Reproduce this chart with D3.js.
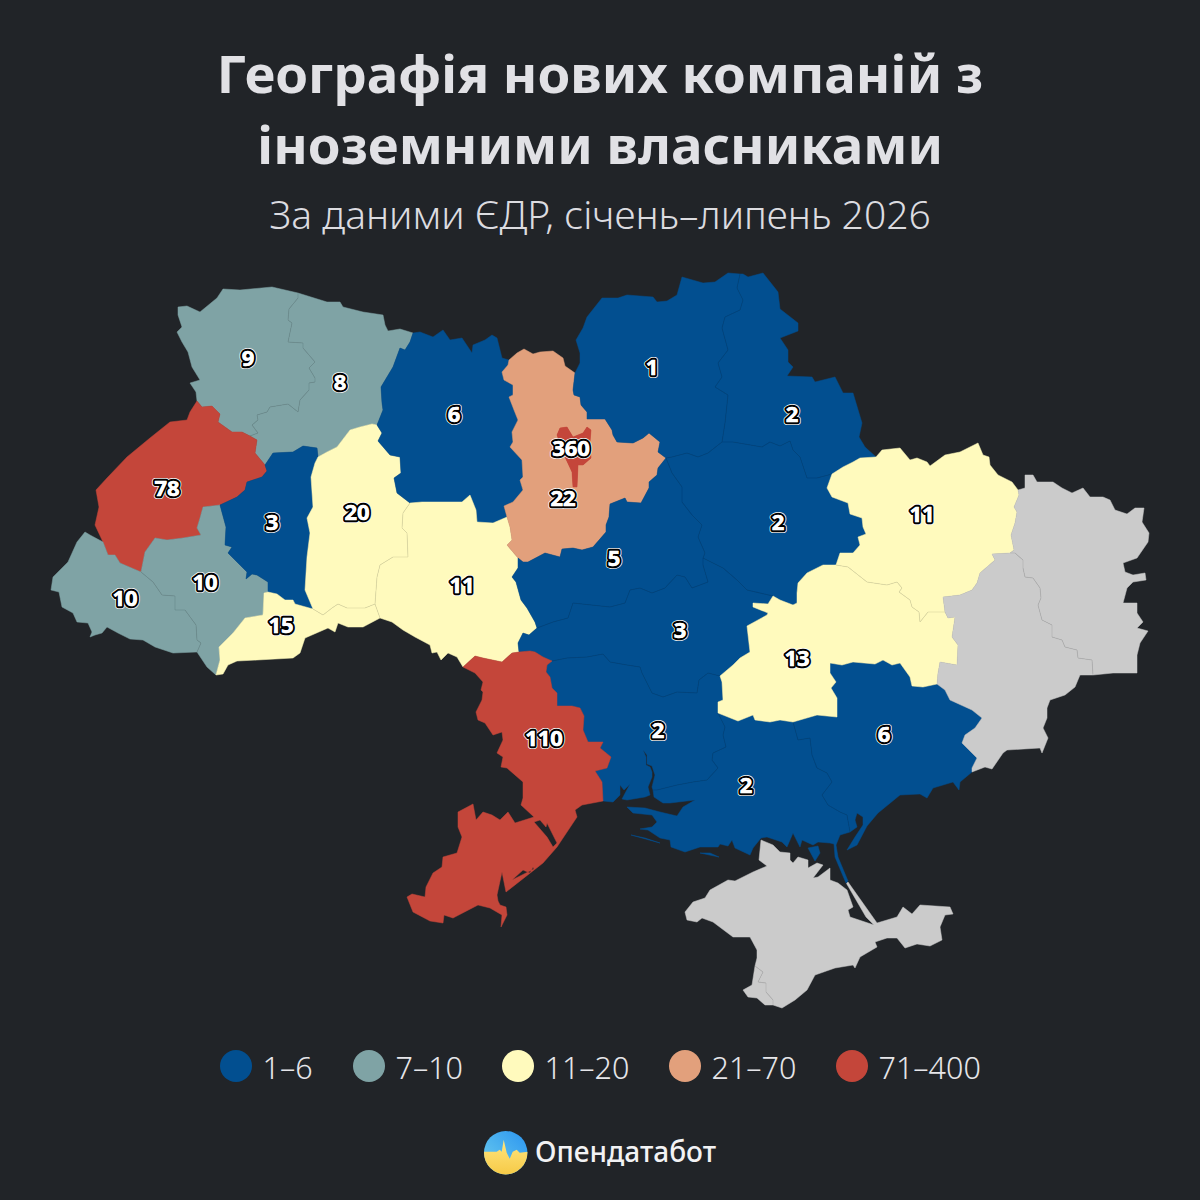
<!DOCTYPE html>
<html lang="uk">
<head>
<meta charset="utf-8">
<title>Географія нових компаній з іноземними власниками</title>
<script src="https://cdn.jsdelivr.net/npm/d3@7"></script>
<style>
html, body { margin: 0; padding: 0; background: #212428; }
svg { display: block; }
text { font-family: "Noto Sans", "Open Sans", sans-serif; }
</style>
</head>
<body>
<svg id="chart" width="1200" height="1200" viewBox="0 0 1200 1200"></svg>
<script>
// --- data
const titleLines = ["Географія нових компаній з", "іноземними власниками"];
const subtitle = "За даними ЄДР, січень–липень 2026";
const brand = "Опендатабот";

const regionNames = ["Волинська", "Рівненська", "Львівська", "Закарпатська", "Івано-Франківська", "Тернопільська",
    "Хмельницька", "Чернівецька", "Житомирська", "Вінницька", "Київська", "Чернігівська", "Сумська", "Полтавська",
    "Черкаська", "Кіровоградська", "Миколаївська", "Одеська", "Херсонська", "Запорізька", "Дніпропетровська",
    "Харківська", "Луганська", "Донецька", "Крим", "Севастополь", "Київ"];
// null = no data (grey)
const regionValues = [9, 8, 78, 10, 10, 3,
    20, 15, 6, 11, 22, 1, 2, 2,
    5, 3, 2, 110, 2, 6, 13,
    11, null, null, null, null, 360];

const legendLabels = ["1–6", "7–10", "11–20", "21–70", "71–400"];
const legendBreaks = [7, 11, 21, 71];

// --- map geometry, shared borders (map units)
const arcs = {
    vo_ri: [[298,293],[298,298],[289,309],[288,320],[292,323],[288,342],[303,343],[303,348],[315,362],[309,368],[315,378],[315,382],[309,383],[309,390],[300,400],[298,412],[288,404],[270,407],[267,412],[257,415],[258,420],[252,425],[258,433],[250,436]],
    vo_lv: [[250,436],[242,432],[232,432],[218,422],[220,414],[212,406],[202,407],[197,401]],
    vo_out: [[197,401],[196,392],[190,383],[200,380],[192,367],[188,352],[182,342],[177,332],[182,327],[178,315],[178,307],[187,306],[200,312],[217,298],[223,289],[240,290],[272,287],[298,293]],
    ri_out: [[298,293],[327,302],[340,302],[343,307],[363,312],[383,315],[385,325],[388,331],[400,329],[413,333]],
    ri_zh: [[413,333],[410,342],[405,350],[400,348],[393,367],[381,387],[382,403],[383,410],[377,425]],
    ri_km: [[377,425],[372,424],[360,427],[350,430],[337,447],[327,452],[318,457]],
    ri_te: [[318,457],[317,448],[303,446],[293,452],[273,453],[265,465]],
    ri_lv: [[265,465],[255,453],[257,440],[250,436]],
    lv_te: [[265,465],[267,471],[262,477],[247,482],[245,490],[237,497],[220,505]],
    lv_if: [[220,505],[212,506],[203,507],[200,518],[197,528],[201,535],[183,538],[167,540],[155,538],[145,552],[141,572]],
    lv_za: [[141,572],[120,563],[115,555],[108,555],[103,542]],
    lv_out: [[103,542],[95,525],[99,507],[96,490],[107,478],[127,457],[150,438],[170,422],[187,420],[190,412],[197,401]],
    za_out: [[103,542],[90,535],[85,532],[77,542],[68,562],[53,577],[51,590],[59,592],[62,607],[73,613],[77,622],[88,623],[92,632],[90,637],[95,635],[102,633],[107,627],[118,633],[130,639],[143,640],[155,647],[173,653],[197,652]],
    za_if: [[141,572],[153,582],[162,595],[175,596],[175,610],[185,610],[196,625],[197,640],[201,643],[197,652]],
    if_out: [[197,652],[207,667],[216,675]],
    if_ch: [[216,675],[220,660],[219,647],[233,633],[245,618],[263,615],[264,593],[268,592]],
    if_te: [[268,592],[268,582],[257,575],[252,574],[246,579],[247,572],[240,565],[228,553],[232,547],[225,545],[226,527],[220,505]],
    te_ch: [[268,592],[277,594],[285,600],[293,600],[295,604],[313,609]],
    te_km: [[318,457],[315,463],[311,477],[313,507],[307,518],[310,533],[307,557],[305,590],[313,609]],
    km_ch: [[313,609],[323,615],[332,608],[338,604],[347,608],[365,608],[375,604]],
    km_zh: [[377,425],[382,433],[378,441],[390,455],[400,457],[401,473],[394,478],[397,493],[410,503]],
    km_vi: [[410,503],[403,513],[402,528],[407,533],[408,557],[393,557],[380,565],[377,577],[375,604]],
    ch_vi: [[375,604],[380,618]],
    ch_out: [[380,618],[363,627],[348,627],[338,623],[335,632],[328,628],[305,638],[300,653],[293,658],[257,660],[237,661],[228,665],[223,674],[216,675]],
    zh_out: [[413,333],[420,332],[433,337],[443,330],[450,340],[462,338],[472,353],[473,345],[485,340],[492,335],[497,338],[502,358],[509,360]],
    zh_ky: [[509,360],[508,365],[502,372],[504,380],[513,385],[513,395],[509,397],[514,410],[518,420],[512,432],[513,442],[510,447],[522,460],[523,477],[520,480],[523,490],[513,502],[504,506],[507,517]],
    zh_vi: [[507,517],[493,523],[477,522],[476,510],[470,495],[462,502],[443,502],[422,502],[410,503]],
    ky_vi: [[507,517],[510,527],[512,540],[507,545],[518,558]],
    vi_ch: [[518,558],[518,568],[512,577],[516,582],[521,600],[527,608],[535,622],[537,628]],
    vi_ki: [[537,628],[529,635],[523,633],[518,643],[519,652]],
    vi_od: [[519,652],[512,653],[502,662],[483,658],[475,656],[463,667]],
    vi_out: [[463,667],[457,657],[448,653],[441,660],[437,652],[432,653],[430,645],[415,637],[403,630],[392,622],[380,618]],
    ky_out: [[509,360],[517,353],[524,349],[533,354],[540,352],[553,351],[563,358],[565,366],[575,373]],
    ky_cn: [[575,373],[573,390],[574,395],[580,397],[581,405],[587,412],[587,419],[605,419],[612,430],[613,435],[617,442],[633,443],[643,438],[649,433],[660,442],[658,452],[666,458]],
    ky_ck: [[666,458],[658,468],[657,475],[649,482],[649,488],[641,503],[627,502],[625,498],[610,504],[609,517],[606,525],[606,532],[593,547],[582,550],[573,548],[562,549],[560,557],[545,553],[528,562],[523,562],[518,558]],
    cn_out: [[575,373],[580,363],[580,353],[576,340],[583,328],[587,317],[602,298],[618,298],[627,295],[653,297],[657,302],[667,301],[677,295],[682,277],[703,283],[715,282],[728,273],[740,274]],
    cn_su: [[740,274],[737,288],[743,300],[740,310],[725,317],[722,328],[728,350],[718,363],[722,377],[715,387],[728,395],[725,423],[722,442]],
    cn_po: [[722,442],[708,453],[698,457],[687,453],[672,457],[666,458]],
    su_out: [[740,274],[743,274],[748,277],[763,273],[778,292],[780,309],[798,323],[798,331],[780,338],[788,350],[788,362],[793,367],[787,376],[812,377],[815,382],[835,377],[843,393],[853,393],[862,423],[859,437],[865,447],[876,457]],
    su_kh: [[876,457],[860,458],[853,462],[843,467],[832,474]],
    po_su: [[722,442],[733,442],[762,447],[770,442],[780,446],[790,441],[793,450],[800,457],[807,478],[817,478],[832,474]],
    po_kh: [[832,474],[827,488],[832,497],[848,503],[850,514],[862,518],[863,527],[866,534],[858,537],[860,545],[853,553],[840,553],[836,565]],
    po_dn: [[836,565],[823,565],[807,573],[798,583],[797,593],[797,603],[793,605],[780,600],[773,596]],
    po_ki: [[703,558],[723,568],[737,580],[747,590],[773,596]],
    po_ck: [[666,458],[672,473],[682,487],[682,502],[692,515],[702,525],[698,537],[705,553],[703,558]],
    ck_ki: [[703,558],[703,565],[708,582],[692,588],[685,577],[677,575],[665,588],[652,593],[640,588],[630,590],[625,603],[610,607],[573,603],[568,618],[553,622],[537,628]],
    ki_dn: [[773,596],[768,604],[753,603],[753,607],[768,613],[767,615],[747,626],[750,652],[740,658],[733,665],[720,676]],
    ki_my: [[720,676],[708,673],[699,680],[697,693],[677,692],[663,697],[652,693],[642,673],[640,667],[627,665],[610,662],[603,654],[587,657],[567,658],[552,661]],
    ki_od: [[552,661],[543,657],[535,652],[530,651],[519,652]],
    my_dn: [[720,676],[722,682],[723,700],[718,702],[718,713]],
    my_kh: [[718,713],[725,727],[723,735],[726,747],[713,753],[712,760],[718,768],[707,780],[693,782],[677,785],[657,790],[653,790]],
    my_co: [[653,790],[652,787],[655,775],[652,766],[647,764],[647,755],[643,750],[646,757],[646,765],[650,767],[652,772],[652,777],[648,787],[650,795],[645,797],[627,800],[622,799],[630,784],[624,790],[620,785],[620,795],[613,802],[603,801]],
    od_my: [[552,661],[547,665],[546,672],[550,677],[552,688],[557,693],[557,706],[572,706],[580,708],[584,716],[583,730],[588,742],[603,742],[600,748],[611,757],[607,768],[595,771],[602,782],[603,801]],
    od_out: [[463,667],[475,673],[483,682],[481,690],[483,692],[482,700],[476,712],[478,720],[485,723],[493,735],[502,732],[503,740],[497,753],[503,757],[501,767],[507,768],[523,782],[523,798],[521,805],[534,817],[515,823],[508,812],[500,820],[492,815],[483,812],[476,820],[473,804],[458,812],[458,827],[462,837],[457,853],[443,857],[442,867],[433,873],[426,887],[425,897],[412,894],[407,897],[413,912],[430,921],[443,923],[444,915],[453,918],[478,905],[490,908],[502,915],[501,927],[507,915],[506,907],[500,905],[498,901],[497,895],[502,872],[506,892],[543,863],[557,847],[577,817],[575,810],[582,805],[603,801]],
    he_co: [[653,790],[654,797],[663,803],[670,803],[695,800],[683,807],[677,816],[660,812],[645,808],[627,807],[633,813],[652,815],[657,822],[652,827],[640,829],[648,830],[660,838],[670,840],[671,847],[685,852],[700,847],[718,847],[720,844],[728,846],[732,840],[735,848],[750,855],[753,848],[761,838],[767,837],[782,842],[787,847],[793,833],[800,847],[802,840],[813,845],[818,842],[830,843],[834,844],[835,857],[843,876],[846,883],[848,881],[838,857],[836,845],[840,835],[850,832]],
    he_za: [[793,722],[798,740],[810,738],[812,755],[817,768],[827,773],[832,782],[822,795],[828,805],[840,812],[847,815],[850,832]],
    dn_he: [[718,713],[738,721],[753,715],[755,720],[770,722],[780,720],[793,722]],
    za_co: [[850,832],[857,827],[855,820],[857,813],[863,817],[863,825],[855,837],[847,850],[857,845],[867,826],[878,813],[900,795],[920,794],[927,798],[933,788],[953,782],[959,790],[960,782],[972,772]],
    za_do: [[937,684],[945,690],[950,700],[972,710],[982,718],[975,728],[965,735],[962,743],[977,758],[972,768],[972,772]],
    dn_za: [[793,722],[817,715],[837,717],[837,698],[831,688],[836,682],[830,673],[830,663],[842,665],[853,662],[875,664],[883,660],[892,665],[900,663],[910,677],[912,686],[923,687],[937,684]],
    dn_kh: [[836,565],[848,567],[867,582],[887,585],[897,582],[902,588],[899,592],[910,600],[912,607],[919,612],[920,622],[928,612],[945,612]],
    dn_do: [[945,612],[948,618],[955,617],[952,637],[958,645],[957,665],[940,662],[938,673],[937,684]],
    kh_out: [[876,457],[882,450],[900,448],[910,460],[917,458],[927,462],[930,466],[945,455],[960,452],[978,443],[983,455],[989,457],[990,465],[998,475],[1012,482],[1018,490]],
    kh_lu: [[1018,490],[1019,495],[1014,507],[1017,512],[1015,523],[1011,535],[1014,550],[1010,553]],
    kh_do: [[1010,553],[992,554],[995,560],[980,573],[977,583],[972,590],[960,595],[943,597],[945,612]],
    lu_out: [[1018,490],[1025,488],[1025,475],[1033,475],[1037,482],[1053,482],[1062,488],[1072,493],[1083,488],[1090,497],[1103,497],[1110,500],[1115,510],[1127,514],[1135,508],[1144,508],[1142,522],[1149,533],[1148,542],[1137,558],[1123,563],[1125,572],[1133,575],[1145,573],[1146,580],[1133,582],[1127,588],[1123,603],[1137,603],[1137,613],[1143,622],[1137,628],[1148,631],[1140,643],[1137,655],[1137,673],[1113,673],[1093,675]],
    do_lu: [[1010,553],[1015,553],[1023,560],[1023,568],[1025,577],[1033,578],[1040,588],[1041,598],[1038,605],[1042,620],[1052,625],[1052,637],[1062,640],[1065,647],[1077,650],[1078,658],[1092,660],[1093,675]],
    do_out: [[972,772],[985,767],[992,769],[1003,753],[1007,750],[1040,748],[1042,753],[1048,738],[1043,728],[1047,718],[1047,708],[1050,700],[1065,695],[1075,687],[1080,675],[1093,675]],
    cr_se: [[755,966],[763,972],[758,982],[766,983],[766,992],[773,1000],[773,1005]],
    se_out: [[755,966],[752,985],[743,990],[748,997],[757,998],[765,1005],[773,1005]],
    cr_out: [[773,1005],[782,1008],[795,1000],[807,990],[815,975],[835,968],[853,965],[855,968],[860,957],[877,947],[875,942],[887,938],[897,938],[905,948],[917,944],[930,946],[942,940],[940,927],[945,915],[953,914],[950,907],[920,905],[912,914],[903,907],[897,917],[877,923],[848,882],[846.5,883.5],[866,917],[874,925],[850,917],[848,910],[853,907],[847,890],[838,883],[830,880],[830,868],[818,877],[813,878],[823,865],[817,863],[808,868],[808,860],[798,857],[793,863],[790,860],[790,853],[780,852],[773,845],[761,840],[759,860],[767,866],[753,872],[735,881],[728,880],[710,890],[705,898],[693,902],[685,912],[687,920],[697,922],[702,918],[713,922],[733,937],[750,937],[757,950],[757,958],[755,966]]
};

// "-name" walks an arc backwards
const regionRings = [
    ["vo_ri", "vo_lv", "vo_out"],
    ["ri_out", "ri_zh", "ri_km", "ri_te", "ri_lv", "-vo_ri"],
    ["-ri_lv", "lv_te", "lv_if", "lv_za", "lv_out", "-vo_lv"],
    ["-lv_za", "za_if", "-za_out"],
    ["lv_if", "za_if", "if_out", "if_ch", "if_te"],
    ["ri_te", "lv_te", "-if_te", "te_ch", "-te_km"],
    ["ri_km", "te_km", "km_ch", "-km_vi", "-km_zh"],
    ["te_ch", "km_ch", "ch_vi", "ch_out", "if_ch"],
    ["zh_out", "zh_ky", "zh_vi", "-km_zh", "-ri_zh"],
    ["-zh_vi", "ky_vi", "vi_ch", "vi_ki", "vi_od", "vi_out", "-ch_vi", "-km_vi"],
    ["ky_out", "ky_cn", "ky_ck", "-ky_vi", "-zh_ky"],
    ["cn_out", "cn_su", "cn_po", "-ky_cn"],
    ["su_out", "su_kh", "-po_su", "-cn_su"],
    ["po_su", "po_kh", "po_dn", "-po_ki", "-po_ck", "-cn_po"],
    ["-ky_ck", "po_ck", "ck_ki", "-vi_ch"],
    ["po_ki", "ki_dn", "ki_my", "ki_od", "-vi_ki", "-ck_ki"],
    ["-ki_my", "my_dn", "my_kh", "my_co", "-od_my"],
    ["od_out", "-od_my", "ki_od", "vi_od"],
    ["dn_he", "he_za", "-he_co", "-my_kh"],
    ["dn_za", "za_do", "-za_co", "-he_za"],
    ["dn_kh", "dn_do", "-dn_za", "-dn_he", "-my_dn", "-ki_dn", "-po_dn"],
    ["kh_out", "kh_lu", "kh_do", "-dn_kh", "-po_kh", "-su_kh"],
    ["lu_out", "-do_lu", "-kh_lu"],
    ["-kh_do", "do_lu", "-do_out", "-za_do", "-dn_do"],
    ["cr_out", "cr_se"],
    ["se_out", "-cr_se"],
    []
];
// extra bits: lagoons cut out of a region, small islands added to it
const regionHoles = {
    "Одеська": [
        [[534,822],[540,820],[546,827],[547,823],[557,843],[553,847],[547,837],[535,828]],
        [[512,880],[523,870],[530,873],[533,867],[534,869],[514,884]]
    ]
};
const regionIslands = {
    "Херсонська": [
        [[631,835],[645,838],[660,843],[650,842]],
        [[700,853],[710,853],[719,857],[708,856]],
        [[808,848],[818,846],[820,853],[815,861],[808,860]]
    ],
    "Київ": [
        [[557,435],[560,428],[567,427],[573,437],[583,433],[587,427],[591,430],[590,442],[591,458],[583,465],[578,465],[577,487],[573,487],[572,472],[565,457],[554,447]]
    ]
};
const labelPoints = {
    "Волинська": [248,358], "Рівненська": [340,382], "Львівська": [167,488], "Закарпатська": [125,598],
    "Івано-Франківська": [205,582], "Тернопільська": [272,522], "Хмельницька": [357,512], "Чернівецька": [281,625],
    "Житомирська": [454,414], "Вінницька": [462,585], "Київська": [563,498], "Чернігівська": [652,367],
    "Сумська": [792,414], "Полтавська": [778,522], "Черкаська": [614,558], "Кіровоградська": [680,630],
    "Миколаївська": [658,730], "Одеська": [544,738], "Херсонська": [746,785], "Запорізька": [884,734],
    "Дніпропетровська": [797,658], "Харківська": [922,514], "Київ": [571,448]
};

// --- colours
const bg = "#212428";
const noData = "#cbcbcb";
const legendColors = ["#024f90", "#7fa3a5", "#fffabd", "#e2a07c", "#c4463a"];
const color = d3.scaleThreshold().domain(legendBreaks).range(legendColors);

// --- build features
function walk(names) {
    let pts = [];
    names.forEach(function(n) {
        const a = n[0] === "-" ? arcs[n.slice(1)].slice().reverse() : arcs[n];
        pts = pts.concat(pts.length ? a.slice(1) : a);
    });
    return pts;
}

const features = regionNames.map(function(name, i) {
    const polys = [];
    if (regionRings[i].length) polys.push([walk(regionRings[i])].concat(regionHoles[name] || []));
    (regionIslands[name] || []).forEach(function(p) { polys.push([p]); });
    return {
        type: "Feature",
        properties: { name: name, value: regionValues[i] },
        geometry: { type: "MultiPolygon", coordinates: polys }
    };
});

const fillOf = d => d.properties.value === null ? noData : color(d.properties.value);

// inner borders only show between regions of the same colour
const arcOwners = {};
regionRings.forEach(function(r, i) {
    r.forEach(function(n) {
        const k = n.replace("-", "");
        (arcOwners[k] = arcOwners[k] || []).push(i);
    });
});
const innerLines = Object.keys(arcOwners)
    .filter(k => arcOwners[k].length === 2 && fillOf(features[arcOwners[k][0]]) === fillOf(features[arcOwners[k][1]]))
    .map(k => arcs[k]);

// --- draw
const svg = d3.select("#chart");
svg.append("rect").attr("width", 1200).attr("height", 1200).attr("fill", bg);

const title = svg.append("g").attr("text-anchor", "middle");
title.selectAll("text.title").data(titleLines).enter().append("text")
    .attr("class", "title")
    .attr("x", 600)
    .attr("y", (d, i) => 93 + i * 71)
    .attr("font-size", 52.8)
    .attr("font-weight", 700)
    .attr("fill", "#e1e1e5")
    .text(d => d);
title.append("text")
    .attr("x", 600)
    .attr("y", 229)
    .attr("font-size", 39)
    .attr("font-weight", 300)
    .attr("fill", "#dcdce0")
    .text(subtitle);

const projection = d3.geoIdentity();
const path = d3.geoPath(projection);

const map = svg.append("g").attr("id", "map");
map.selectAll("path.region").data(features).enter().append("path")
    .attr("class", "region")
    .attr("d", path)
    .attr("fill", fillOf)
    .attr("fill-rule", "evenodd")
    .attr("stroke", fillOf)
    .attr("stroke-width", 0.5)
    .attr("stroke-linejoin", "round");

map.append("path")
    .datum({ type: "MultiLineString", coordinates: innerLines })
    .attr("d", path)
    .attr("fill", "none")
    .attr("stroke", "#000")
    .attr("stroke-opacity", 0.13)
    .attr("stroke-width", 0.7);

// the city sits on top of its oblast, so repaint it
map.append("path")
    .datum(features[features.length - 1])
    .attr("d", path)
    .attr("fill", fillOf);

const labelled = features.filter(d => d.properties.value !== null);
function addLabels(strokeColor, strokeWidth) {
    svg.append("g").selectAll("text").data(labelled).enter().append("text")
        .attr("transform", d => "translate(" + projection(labelPoints[d.properties.name]) + ")")
        .attr("dy", "0.36em")
        .attr("text-anchor", "middle")
        .attr("font-size", 22)
        .attr("font-weight", 700)
        .attr("fill", "#fff")
        .attr("stroke", strokeColor)
        .attr("stroke-width", strokeWidth)
        .attr("stroke-linejoin", "round")
        .attr("paint-order", "stroke")
        .text(d => d.properties.value);
}
// white halo, black outline, then the digit itself
addLabels("#fff", 6);
addLabels("#000", 4.5);
addLabels("#fff", 0.4);

// --- legend
const legendX = [236, 369, 518, 685, 852];
const legend = svg.append("g").selectAll("g").data(legendLabels).enter().append("g")
    .attr("transform", (d, i) => "translate(" + legendX[i] + ",1066)");
legend.append("circle").attr("r", 16).attr("fill", (d, i) => legendColors[i]);
legend.append("text")
    .attr("x", 26.5)
    .attr("y", 13)
    .attr("font-size", 30.5)
    .attr("font-weight", 300)
    .attr("fill", "#e6e6ea")
    .text(d => d);

// --- logo
const logoWave = [[-23,-1],[-9,-1],[-6,-3],[-4,-1],[-2,-13],[1,0],[4,6],[7,-1],[11,-3],[14,0],[23,-1],[23,23],[-23,23]];
const defs = svg.append("defs");
const sky = defs.append("linearGradient").attr("id", "logoSky").attr("x1", 0).attr("y1", 1).attr("x2", 1).attr("y2", 0);
sky.append("stop").attr("offset", 0).attr("stop-color", "#6fd0ee");
sky.append("stop").attr("offset", 1).attr("stop-color", "#2a94f0");
const sun = defs.append("linearGradient").attr("id", "logoSun").attr("x1", 0).attr("y1", 0).attr("x2", 0).attr("y2", 1);
sun.append("stop").attr("offset", 0).attr("stop-color", "#ffe680");
sun.append("stop").attr("offset", 1).attr("stop-color", "#f6c945");
defs.append("clipPath").attr("id", "logoClip").append("circle").attr("r", 21.7);

const logo = svg.append("g").attr("transform", "translate(505.7,1152.7)");
logo.append("circle").attr("r", 21.7).attr("fill", "url(#logoSky)");
logo.append("path")
    .attr("d", d3.line()(logoWave) + "Z")
    .attr("clip-path", "url(#logoClip)")
    .attr("fill", "url(#logoSun)");
svg.append("text")
    .attr("x", 535)
    .attr("y", 1162)
    .attr("font-size", 28)
    .attr("font-weight", 500)
    .attr("fill", "#f2f2f4")
    .text(brand);
</script>
</body>
</html>
